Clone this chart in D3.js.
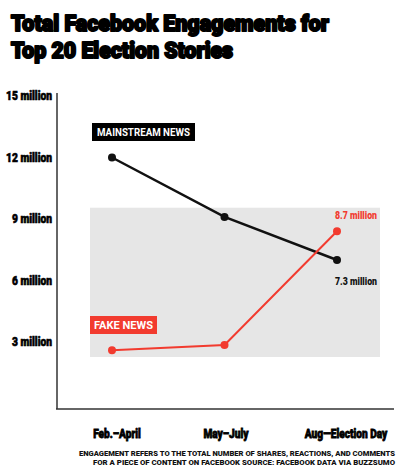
<!DOCTYPE html>
<html>
<head>
<script src="https://cdn.jsdelivr.net/npm/d3@7"></script>
<style>
  body { margin: 0; background: #fff; }
  text { font-family: "Roboto", "Liberation Sans", sans-serif; }
</style>
</head>
<body>
<div id="chart"></div>
<script>
var periods = ["Feb.\u2013April", "May\u2013July", "Aug\u2014Election Day"];
var mainstream = [12.0, 9.1, 7.0];
var fake = [2.6, 2.85, 8.4];
var yTicks = [3, 6, 9, 12, 15];
var endLabels = ["7.3 million", "8.7 million"];

var W = 398, H = 474;
var svg = d3.select("#chart").append("svg").attr("width", W).attr("height", H);

var x = d3.scalePoint().domain(periods).range([112, 337]);
var y = d3.scaleLinear().domain([0, 15]).range([403.5, 96]);

// title
svg.append("text").attr("x", 11).attr("y", 31).text("Total Facebook Engagements for")
  .attr("font-size", 22).attr("font-weight", 900).attr("stroke", "#000").attr("stroke-width", 2)
  .attr("stroke-linejoin", "round")
  .attr("textLength", 318).attr("lengthAdjust", "spacingAndGlyphs");
svg.append("text").attr("x", 11).attr("y", 58).text("Top 20 Election Stories")
  .attr("font-size", 22).attr("font-weight", 900).attr("stroke", "#000").attr("stroke-width", 2)
  .attr("stroke-linejoin", "round")
  .attr("textLength", 222).attr("lengthAdjust", "spacingAndGlyphs");

// grey panel
svg.append("rect").attr("x", 90).attr("y", y(9.55)).attr("width", 290)
  .attr("height", y(2.27) - y(9.55)).attr("fill", "#e6e6e6");

// axes lines
svg.append("line").attr("x1", 57).attr("x2", 57).attr("y1", 93).attr("y2", 409)
  .attr("stroke", "#333").attr("stroke-width", 1.5);
svg.append("line").attr("x1", 56).attr("x2", 394).attr("y1", 409).attr("y2", 409)
  .attr("stroke", "#333").attr("stroke-width", 1.5);

// y tick labels
svg.selectAll(".yt").data(yTicks).enter().append("text")
  .attr("x", 52).attr("y", function(d) { return y(d) + 4; })
  .attr("text-anchor", "end").attr("font-size", 12).attr("font-weight", 900)
  .attr("stroke", "#000").attr("stroke-width", 0.6)
  .attr("textLength", function(d) { return d >= 10 ? 46 : 40; }).attr("lengthAdjust", "spacingAndGlyphs")
  .text(function(d) { return d + " million"; });

// x labels, squeezed horizontally like the condensed face in the picture
var xc = [117, 226, 346];
svg.selectAll(".xt").data(periods).enter().append("text")
  .attr("transform", function(d, i) { return "translate(" + xc[i] + ",438) scale(0.78,1)"; })
  .attr("text-anchor", "middle")
  .attr("font-size", 13).attr("font-weight", 900).attr("stroke", "#000").attr("stroke-width", 0.8)
  .text(function(d) { return d; });

// lines
var line = d3.line().x(function(d, i) { return x(periods[i]); }).y(function(d) { return y(d); });
svg.append("path").datum(mainstream).attr("d", line).attr("fill", "none")
  .attr("stroke", "#111").attr("stroke-width", 2.5);
svg.append("path").datum(fake).attr("d", line).attr("fill", "none")
  .attr("stroke", "#f23b2f").attr("stroke-width", 2);

svg.selectAll(".dm").data(mainstream).enter().append("circle")
  .attr("cx", function(d, i) { return x(periods[i]); }).attr("cy", function(d) { return y(d); })
  .attr("r", 4).attr("fill", "#111");
svg.selectAll(".df").data(fake).enter().append("circle")
  .attr("cx", function(d, i) { return x(periods[i]); }).attr("cy", function(d) { return y(d); })
  .attr("r", 4).attr("fill", "#f23b2f");

// series tags
svg.append("rect").attr("x", 92).attr("y", 123).attr("width", 103).attr("height", 18).attr("fill", "#000");
svg.append("text").attr("x", 143.5).attr("y", 136).attr("text-anchor", "middle")
  .attr("fill", "#fff").attr("font-size", 10).attr("font-weight", 700)
  .attr("textLength", 93).attr("lengthAdjust", "spacingAndGlyphs").text("MAINSTREAM NEWS");
svg.append("rect").attr("x", 90).attr("y", 316).attr("width", 67).attr("height", 18).attr("fill", "#f23b2f");
svg.append("text").attr("x", 123.5).attr("y", 329).attr("text-anchor", "middle")
  .attr("fill", "#fff").attr("font-size", 10).attr("font-weight", 700)
  .attr("textLength", 59).attr("lengthAdjust", "spacingAndGlyphs").text("FAKE NEWS");

// end value labels
svg.append("text").attr("x", 335).attr("y", y(mainstream[2]) + 25)
  .attr("font-size", 10).attr("font-weight", 900).attr("fill", "#111")
  .attr("textLength", 42).attr("lengthAdjust", "spacingAndGlyphs").text(endLabels[0]);
svg.append("text").attr("x", 335).attr("y", y(fake[2]) - 12)
  .attr("font-size", 10).attr("font-weight", 900).attr("fill", "#f23b2f")
  .attr("textLength", 42).attr("lengthAdjust", "spacingAndGlyphs").text(endLabels[1]);

// footnote
svg.append("text").attr("x", 395).attr("y", 456).attr("text-anchor", "end")
  .attr("font-size", 7).attr("font-weight", 900).attr("fill", "#111")
  .attr("textLength", 316).attr("lengthAdjust", "spacingAndGlyphs")
  .text("ENGAGEMENT REFERS TO THE TOTAL NUMBER OF SHARES, REACTIONS, AND COMMENTS");
svg.append("text").attr("x", 395).attr("y", 465).attr("text-anchor", "end")
  .attr("font-size", 7).attr("font-weight", 900).attr("fill", "#111")
  .attr("textLength", 302).attr("lengthAdjust", "spacingAndGlyphs")
  .text("FOR A PIECE OF CONTENT ON FACEBOOK SOURCE: FACEBOOK DATA VIA BUZZSUMO");
</script>
</body>
</html>
